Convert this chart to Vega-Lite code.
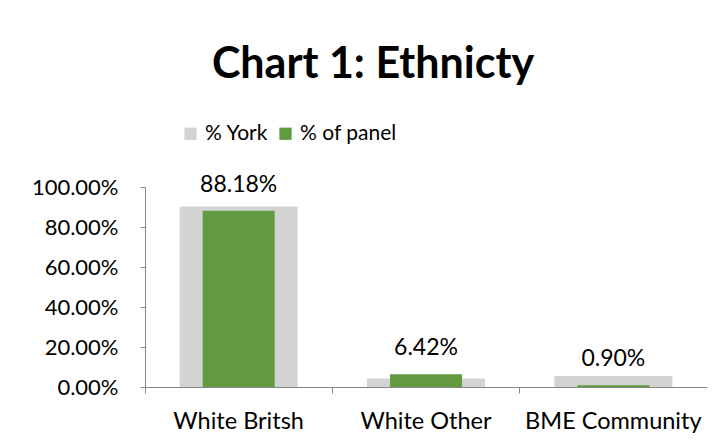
{
  "$schema": "https://vega.github.io/schema/vega-lite/v6.json",
  "autosize": "none",
  "width": 562,
  "height": 200,
  "padding": {"left": 145, "top": 187, "right": 19, "bottom": 60},
  "background": "white",
  "title": {"text": "Chart 1: Ethnicty", "font": "Lato", "fontSize": 43, "fontWeight": "bold", "color": "#000000", "anchor": "middle", "frame": "group", "dx": -53, "offset": 36},
  "data": {
    "values": [
      {"group": "White Britsh", "york": 0.902, "panel": 0.8818},
      {"group": "White Other", "york": 0.042, "panel": 0.0642},
      {"group": "BME Community", "york": 0.055, "panel": 0.009}
    ]
  },
  "encoding": {
    "x": {
      "field": "group",
      "type": "nominal",
      "sort": null,
      "title": null,
      "scale": {"paddingInner": 0, "paddingOuter": 0},
      "axis": {"labelAngle": 0, "labelFont": "Lato", "labelFontSize": 23.5, "labelLimit": 400, "labelColor": "#000000", "labelPadding": 16, "ticks": true, "bandPosition": 0, "tickSize": 6, "tickColor": "#868686", "domainColor": "#868686"}
    },
    "y": {
      "field": "york",
      "type": "quantitative",
      "title": null,
      "scale": {"domain": [0, 1]},
      "axis": {"values": [0, 0.2, 0.4, 0.6, 0.8, 1], "format": ".2%", "grid": false, "labelOverlap": false, "labelFont": "Lato", "labelFontSize": 22, "labelColor": "#000000", "labelPadding": 22, "tickSize": 5, "tickColor": "#868686", "domainColor": "#868686"}
    }
  },
  "layer": [
    {
      "mark": {"type": "bar", "size": 118},
      "encoding": {
        "color": {"datum": "% York"}
      }
    },
    {
      "mark": {"type": "bar", "size": 72},
      "encoding": {
        "y": {"field": "panel", "type": "quantitative"},
        "color": {"datum": "% of panel"}
      }
    },
    {
      "mark": {"type": "text", "dy": -26, "font": "Lato", "fontSize": 23, "color": "#000000"},
      "encoding": {
        "y": {"field": "panel", "type": "quantitative"},
        "text": {"field": "panel", "type": "quantitative", "format": ".2%"}
      }
    }
  ],
  "resolve": {"scale": {"color": "shared"}},
  "config": {
    "view": {"stroke": null},
    "axisY": {"labelOverlap": false},
    "range": {"category": ["#d3d3d3", "#629b3f"]},
    "legend": {"orient": "none", "direction": "horizontal", "legendX": 35, "legendY": -64, "title": null, "symbolType": "square", "symbolSize": 150, "symbolStrokeWidth": 0, "symbolOpacity": 1, "labelFont": "Lato", "labelFontSize": 21, "labelColor": "#000000", "columnPadding": 6, "labelOffset": 4}
  }
}
